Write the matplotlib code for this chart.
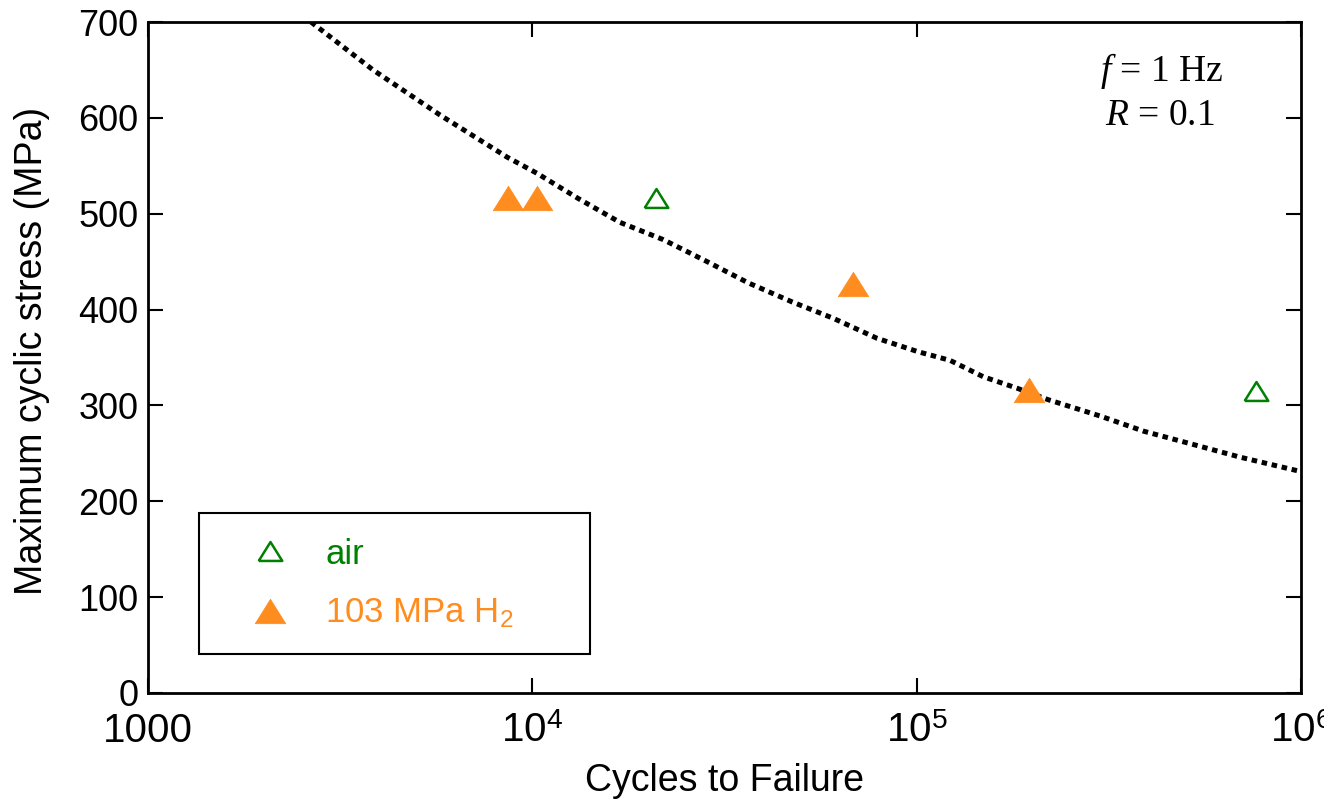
import matplotlib
matplotlib.use('Agg')
import matplotlib.pyplot as plt
from matplotlib.ticker import FixedLocator, FuncFormatter

# S-N data: maximum cyclic stress vs cycles to failure
air_cycles = [21000, 764000]
air_stress = [516, 315]

h2_cycles = [8650, 10300, 68300, 196000]
h2_stress = [516, 516, 427, 316]

# dotted reference curve
curve_cycles = [2655, 3850, 5750, 8600, 10300, 13150, 16900, 21900, 28500, 36400,
                47400, 60600, 78900, 100900, 122200, 148900, 182400, 219800,
                300000, 390600, 505500, 695000, 1000000]
curve_stress = [700, 650, 603, 559, 542, 516, 491, 473, 450, 428,
                408, 391, 370, 356, 347, 330, 318, 306,
                289, 273, 261, 246, 231]

x_ticks = [1e3, 1e4, 1e5, 1e6]
x_tick_labels = ['1000', r'$10^{4}$', r'$10^{5}$', r'$10^{6}$']
y_ticks = [0, 100, 200, 300, 400, 500, 600, 700]

GREEN = '#008000'
ORANGE = '#ff8c1e'

plt.rcParams['font.family'] = 'Liberation Sans'
plt.rcParams['mathtext.fontset'] = 'custom'
plt.rcParams['mathtext.rm'] = 'Liberation Sans'
plt.rcParams['mathtext.it'] = 'Liberation Serif:italic'

fig = plt.figure(figsize=(13.24, 8.0), dpi=100)
ax = fig.add_axes([0.1118, 0.13375, 0.8708, 0.83875])

ax.plot(curve_cycles, curve_stress, color='black', lw=3.6,
        linestyle=(0, (1.1, 0.95)), zorder=1)

tri = [(-1, -0.8), (1, -0.8), (0, 0.8), (-1, -0.8)]
ax.plot(air_cycles, air_stress, linestyle='none', marker=tri, ms=17,
        mfc='none', mec=GREEN, mew=1.8, label='air', zorder=3)
ax.plot(h2_cycles, h2_stress, linestyle='none', marker=tri, ms=22,
        mfc=ORANGE, mec=ORANGE, mew=0.5, label=r'103 MPa H$_2$', zorder=2)

ax.set_xscale('log')
ax.set_xlim(1e3, 1e6)
ax.set_ylim(0, 700)

ax.xaxis.set_major_locator(FixedLocator(x_ticks))
ax.xaxis.set_major_formatter(FuncFormatter(lambda v, p: x_tick_labels[x_ticks.index(v)] if v in x_ticks else ''))
ax.xaxis.set_minor_locator(FixedLocator([]))
ax.set_yticks(y_ticks)

ax.tick_params(which='major', direction='in', length=11, width=1.5,
               top=True, right=True, labelsize=26, pad=7)
ax.tick_params(axis='x', labelsize=29, pad=14)
for s in ax.spines.values():
    s.set_linewidth(2)

ax.set_xlabel('Cycles to Failure', fontsize=27)
ax.set_ylabel('Maximum cyclic stress (MPa)', fontsize=27)
ax.xaxis.set_label_coords(0.5, -0.105)
ax.yaxis.set_label_coords(-0.085, 0.51)

ax.text(0.826, 0.912, r'$f$ = 1 Hz', transform=ax.transAxes, fontsize=27,
        family='Liberation Serif', ha='left', va='baseline')
ax.text(0.830, 0.846, r'$R$ = 0.1', transform=ax.transAxes, fontsize=27,
        family='Liberation Serif', ha='left', va='baseline')

leg = ax.legend(loc='lower left', bbox_to_anchor=(0.044, 0.058, 0.339, 0.203),
                mode='expand', borderaxespad=0, fontsize=25, frameon=True,
                fancybox=False, edgecolor='black', framealpha=1,
                handlelength=2.7, handletextpad=0.25, labelspacing=0.75,
                borderpad=0.7)
leg.get_frame().set_linewidth(1.5)
leg.get_texts()[0].set_color(GREEN)
leg.get_texts()[1].set_color(ORANGE)

plt.savefig('out.png', dpi=100)
plt.close()
